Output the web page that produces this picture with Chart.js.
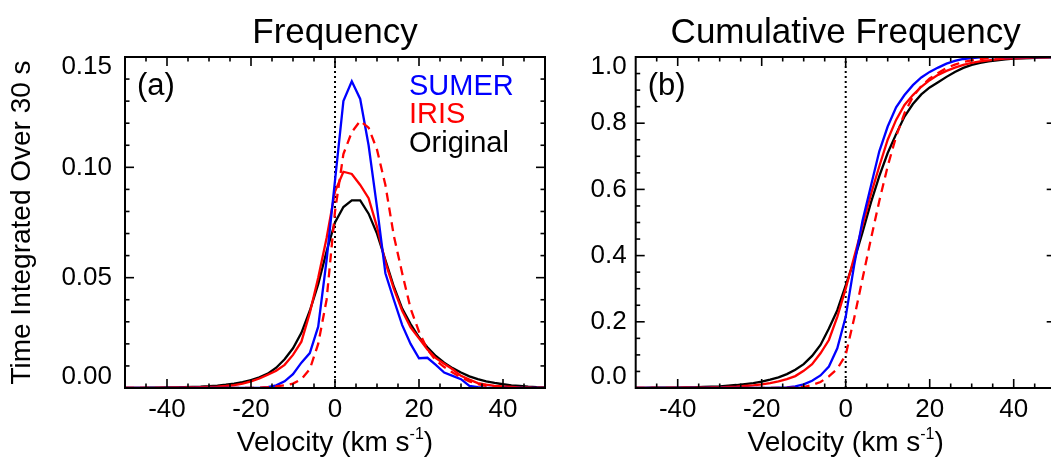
<!DOCTYPE html>
<html><head><meta charset="utf-8">
<script src="https://cdn.jsdelivr.net/npm/chart.js@4.4.0/dist/chart.umd.min.js"></script>
<style>
html,body{margin:0;padding:0;background:#fff;overflow:hidden;width:1051px;height:463px;}
#wrap{position:relative;width:1051px;height:463px;overflow:hidden;background:#fff;}
canvas{position:absolute;top:0;}
#c1{left:0;} #c2{left:560px;}
</style></head><body>
<div id="wrap"><canvas id="c1" width="560" height="463"></canvas><canvas id="c2" width="500" height="463"></canvas></div>
<script>
// ---------------- data ----------------
const velocity = [-50,-48,-46,-44,-42,-40,-38,-36,-34,-32,-30,-28,-26,-24,-22,-20,-18,-16,-14,-12,-10,-8,-6,-4,-2,0,2,4,6,8,10,12,14,16,18,20,22,24,26,28,30,32,34,36,38,40,42,44,46,48,50];

const freqSumer = [0,0,0,0,0,0,0,0,0,0,0,0,0,0,0,0,0.0001,0.0004,
  0.0012,0.003,0.0063,0.0115,0.0158,0.0278,0.058,0.094,0.130,0.139,0.131,0.110,0.082,0.052,0.040,0.0285,0.020,0.0135,0.0137,0.0105,0.007,0.0055,0.004,0.0009,0.0004,0.0001,
  0,0,0,0,0,0,0];
const freqIris = [0,0,0.0001,0.0001,0.0001,0.0002,0.0002,0.0003,0.0003,0.0004,0.0005,0.0006,0.0009,0.0013,0.002,0.003,0.0043,0.006,0.0078,0.0105,0.015,0.021,0.034,0.05,0.068,0.089,0.098,0.097,0.092,0.086,0.073,0.057,0.045,0.035,0.0275,0.0225,0.0175,0.0135,0.011,0.0085,0.0055,0.0038,0.0022,0.0015,0.001,0.0007,0.0005,0.0003,0.0002,0.0001,0.0001];
const freqIrisShifted = [0,0,0,0,0,0,0,0,0,0,0,0,0,0,0,0,
  0.0002,0.0004,0.0007,0.0012,0.002,0.004,0.0085,0.02,0.04,0.08,0.106,0.116,0.121,0.118,0.108,0.092,0.069,0.052,0.036,0.0255,0.0175,0.0125,0.0095,0.007,0.0048,0.003,0.0018,0.001,0.0006,0.0003,0.0002,0.0001,0.0001,0,0];
const freqOriginal = [0.0001,0.0001,0.0001,0.0002,0.0002,0.0003,0.0003,0.0004,0.0005,0.0006,0.0008,0.0011,0.0015,0.002,0.0027,0.0036,0.0048,0.0065,0.0092,0.013,0.018,0.025,0.035,0.047,0.062,0.075,0.082,0.085,0.085,0.079,0.07,0.058,0.046,0.036,0.029,0.023,0.0185,0.0145,0.0115,0.009,0.007,0.0053,0.004,0.003,0.0023,0.0017,0.0012,0.0009,0.0006,0.0004,0.0003];

const cumSumer = [0,0,0,0,0,0,0,0,0,0,0,0,0,0,0,0,0,
  0.001,0.002,0.005,0.011,0.022,0.038,0.065,0.12,0.215,0.37,0.505,0.61,0.715,0.79,0.848,0.885,0.915,0.938,0.955,0.968,0.98,0.988,0.994,0.997,0.999,
  1,1,1,1,1,1,1,1,1];
const cumIris = [0,0,0,0,0,0.001,0.001,0.001,0.001,0.002,0.002,0.003,0.004,0.006,0.008,0.011,0.015,0.02,0.027,0.036,0.052,0.072,0.105,0.145,0.215,0.30,0.395,0.49,0.585,0.67,0.75,0.81,0.855,0.885,0.91,0.93,0.946,0.958,0.968,0.976,0.982,0.987,0.99,0.993,0.995,0.996,0.997,0.998,0.999,0.999,1.0];
const cumIrisShifted = [0,0,0,0,0,0,0,0,0,0,0,0,0,0,0,0,0,0,0,
  0.001,0.003,0.009,0.018,0.035,0.058,0.1,0.21,0.33,0.45,0.565,0.67,0.76,0.83,0.88,0.912,0.935,0.952,0.967,0.977,0.985,0.99,0.994,0.997,0.998,0.999,
  1,1,1,1,1,1];
const cumOriginal = [0,0,0.001,0.001,0.001,0.001,0.002,0.002,0.003,0.004,0.005,0.007,0.009,0.012,0.015,0.019,0.025,0.032,0.042,0.055,0.072,0.097,0.13,0.18,0.235,0.31,0.385,0.47,0.56,0.64,0.71,0.767,0.82,0.858,0.887,0.908,0.924,0.94,0.955,0.967,0.976,0.982,0.987,0.99,0.993,0.995,0.996,0.997,0.998,0.999,0.999];

const xMajorTicks = [-40,-20,0,20,40];
const xMinorTicks = [-45,-35,-30,-25,-15,-10,-5,5,10,15,25,30,35,45];
const xTickLabels = ['-40','-20','0','20','40'];
const yFreqMajor = [0,0.05,0.10,0.15];
const yFreqMinor = [0.01,0.02,0.03,0.04,0.06,0.07,0.08,0.09,0.11,0.12,0.13,0.14];
const yFreqLabels = ['0.00','0.05','0.10','0.15'];
const yCumMajor = [0,0.2,0.4,0.6,0.8,1.0];
const yCumMinor = [0.05,0.1,0.15,0.25,0.3,0.35,0.45,0.5,0.55,0.65,0.7,0.75,0.85,0.9,0.95];
const yCumLabels = ['0.0','0.2','0.4','0.6','0.8','1.0'];
const seriesNames = ['SUMER','IRIS','Original'];
const seriesColors = ['#0000ff','#ff0000','#000000'];

// ---------------- helpers ----------------
const FONT = '"Liberation Sans", Arial, Helvetica, sans-serif';
const pts = (arr) => arr.map((v,i)=>({x: velocity[i], y: v}));

function idlAxes(cfg){
  return {
    id:'idlAxes',
    afterDatasetsDraw(chart){
      const ctx = chart.ctx, a = chart.chartArea, xs = chart.scales.x, ys = chart.scales.y;
      ctx.save();
      ctx.strokeStyle = '#000';
      ctx.lineWidth = 2;
      ctx.strokeRect(a.left, a.top, a.right - a.left, a.bottom - a.top);
      ctx.lineWidth = 1.6;
      const seg = (x1,y1,x2,y2)=>{ctx.beginPath();ctx.moveTo(x1,y1);ctx.lineTo(x2,y2);ctx.stroke();};
      const MJ = 9, MN = 4.5;
      xMajorTicks.forEach(v=>{const p = xs.getPixelForValue(v); seg(p,a.bottom,p,a.bottom-MJ); seg(p,a.top,p,a.top+MJ);});
      xMinorTicks.forEach(v=>{const p = xs.getPixelForValue(v); seg(p,a.bottom,p,a.bottom-MN); seg(p,a.top,p,a.top+MN);});
      cfg.yMajor.forEach(v=>{const p = ys.getPixelForValue(v); seg(a.left,p,a.left+MJ,p); seg(a.right,p,a.right-MJ,p);});
      cfg.yMinor.forEach(v=>{const p = ys.getPixelForValue(v); seg(a.left,p,a.left+MN,p); seg(a.right,p,a.right-MN,p);});

      ctx.fillStyle = '#000';
      // x tick labels
      ctx.font = '26px ' + FONT;
      ctx.textAlign = 'center'; ctx.textBaseline = 'middle';
      xMajorTicks.forEach((v,i)=> ctx.fillText(xTickLabels[i], xs.getPixelForValue(v), 410));
      // y tick labels
      ctx.textAlign = 'right';
      cfg.yMajor.forEach((v,i)=>{
        let p = ys.getPixelForValue(v);
        p = Math.min(Math.max(p, a.top + 10), a.bottom - 11);
        ctx.fillText(cfg.yLabels[i], a.left - cfg.yGap, p);
      });
      // x title with superscript
      const cx = (a.left + a.right)/2;
      const main = 'Velocity (km s', sup = '-1', close = ')';
      ctx.font = '28px ' + FONT; const w1 = ctx.measureText(main).width, w3 = ctx.measureText(close).width;
      ctx.font = '16px ' + FONT; const w2 = ctx.measureText(sup).width;
      let sx = cx - (w1+w2+w3)/2;
      ctx.textAlign = 'left'; ctx.textBaseline = 'alphabetic';
      ctx.font = '28px ' + FONT; ctx.fillText(main, sx, 451);
      ctx.font = '16px ' + FONT; ctx.fillText(sup, sx + w1, 439);
      ctx.font = '28px ' + FONT; ctx.fillText(close, sx + w1 + w2, 451);
      // title
      ctx.font = '35px ' + FONT; ctx.textAlign = 'center';
      ctx.fillText(cfg.title, cx, 43);
      // panel label
      ctx.font = '31px ' + FONT; ctx.textAlign = 'left'; ctx.textBaseline = 'middle';
      ctx.fillText(cfg.panel, a.left + 12, 86);
      if (cfg.yTitle){
        ctx.save();
        ctx.translate(22, (a.top + a.bottom)/2);
        ctx.rotate(-Math.PI/2);
        ctx.font = '28px ' + FONT; ctx.textAlign = 'center'; ctx.textBaseline = 'middle';
        ctx.fillText(cfg.yTitle, 0, 0);
        ctx.restore();
      }
      if (cfg.legend){
        ctx.font = '29px ' + FONT; ctx.textAlign = 'left'; ctx.textBaseline = 'alphabetic';
        seriesNames.forEach((n,i)=>{ ctx.fillStyle = seriesColors[i]; ctx.fillText(n, 409, 94.5 + i*28.5); });
      }
      ctx.restore();
    }
  };
}

function makeChart(id, sets, ymax, padding, cfg){
  const ds = [
    {data: pts(sets.shifted), borderColor:'#ff0000', borderDash:[9,6], borderWidth:2.3},
    {data: pts(sets.sumer), borderColor:'#0000ff', borderWidth:2.3},
    {data: pts(sets.iris), borderColor:'#ff0000', borderWidth:2.3},
    {data: pts(sets.orig), borderColor:'#000000', borderWidth:2.3},
    {data: [{x:0,y:0},{x:0,y:ymax}], borderColor:'#000000', borderDash:[2,3], borderWidth:2}
  ].map(d=>Object.assign({pointRadius:0, tension:0, fill:false, borderCapStyle:'butt'}, d));
  return new Chart(document.getElementById(id), {
    type:'line',
    data:{datasets: ds},
    options:{
      responsive:false, animation:false, devicePixelRatio:1,
      layout:{padding: padding},
      plugins:{legend:{display:false}, tooltip:{enabled:false}},
      scales:{
        x:{type:'linear', min:-50, max:50, display:false},
        y:{type:'linear', min:0, max:ymax, display:false}
      }
    },
    plugins:[idlAxes(cfg)]
  });
}

makeChart('c1', {shifted:freqIrisShifted, sumer:freqSumer, iris:freqIris, orig:freqOriginal}, 0.15,
  {left:125, right:15, top:57, bottom:75},
  {yMajor:yFreqMajor, yMinor:yFreqMinor, yLabels:yFreqLabels, yGap:13, title:'Frequency', panel:'(a)', yTitle:'Time Integrated Over 30 s', legend:true});
makeChart('c2', {shifted:cumIrisShifted, sumer:cumSumer, iris:cumIris, orig:cumOriginal}, 1.0,
  {left:75.7, right:4.3, top:57, bottom:75},
  {yMajor:yCumMajor, yMinor:yCumMinor, yLabels:yCumLabels, yGap:9, title:'Cumulative Frequency', panel:'(b)', yTitle:null, legend:false});
</script>
</body></html>
